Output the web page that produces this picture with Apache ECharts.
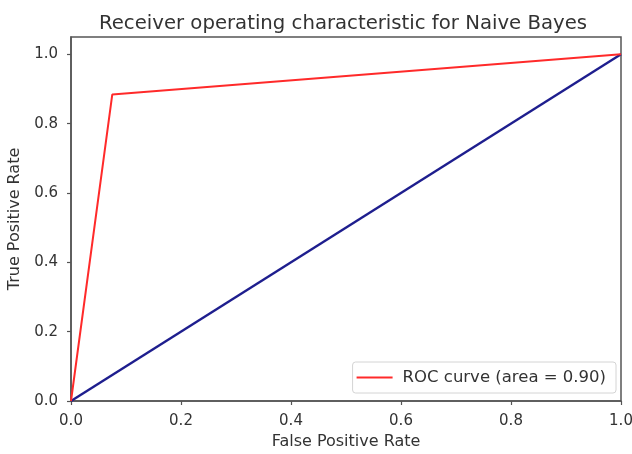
<!DOCTYPE html>
<html><head><meta charset="utf-8">
<script src="https://cdn.jsdelivr.net/npm/echarts@6/dist/echarts.min.js"></script>
<style>html,body{margin:0;padding:0;background:#fff}#c{width:632px;height:454px}</style>
</head><body><div id="c"></div>
<script>
const rocFpr = [0.0, 0.075, 1.0];
const rocTpr = [0.0, 0.884, 1.0];
const diagX = [0.0, 1.0];
const diagY = [0.0, 1.0];
const tickValues = [0.0, 0.2, 0.4, 0.6, 0.8, 1.0];
const title = 'Receiver operating characteristic for Naive Bayes';
const rocName = 'ROC curve (area = 0.90)';

const font = 'DejaVu Sans';
const axisColor = '#555';
const chart = echarts.init(document.getElementById('c'));
chart.setOption({
  animation: false,
  backgroundColor: '#fff',
  title: {text: title, left: 338, top: 9, textAlign: 'center',
    textStyle: {fontFamily: font, fontSize: 19.7, fontWeight: 'normal', color: '#333'}},
  grid: {left: 71, right: 11, top: 37, bottom: 53, show: true, borderColor: axisColor, borderWidth: 1.5,
    containLabel: false, outerBoundsMode: 'none'},
  legend: {data: [{name: rocName, icon: 'rect'}], right: 16, bottom: 61, orient: 'vertical',
    borderColor: '#d4d4d4', borderWidth: 1, borderRadius: 3, padding: [7, 10, 7, 4],
    itemWidth: 36, itemHeight: 2, itemGap: 0,
    textStyle: {fontFamily: font, fontSize: 16.5, color: '#333', padding: [0, 0, 0, 5]}},
  xAxis: {type: 'value', min: 0, max: 1, interval: 0.2,
    name: 'False Positive Rate', nameLocation: 'middle', nameGap: 32,
    nameTextStyle: {fontFamily: font, fontSize: 16, color: '#333'},
    axisLine: {show: true, lineStyle: {color: axisColor, width: 1.5}},
    axisTick: {show: true, length: 4, lineStyle: {color: axisColor, width: 1.2}, customValues: tickValues},
    axisLabel: {fontFamily: font, fontSize: 15, color: '#333', margin: 13, customValues: tickValues,
      formatter: v => v.toFixed(1)},
    splitLine: {show: false}},
  yAxis: {type: 'value', min: 0, max: 1.05,
    name: 'True Positive Rate', nameLocation: 'middle', nameGap: 48,
    nameTextStyle: {fontFamily: font, fontSize: 16, color: '#333'},
    axisLine: {show: true, lineStyle: {color: axisColor, width: 1.5}},
    axisTick: {show: true, length: 4, lineStyle: {color: axisColor, width: 1.2}, customValues: tickValues},
    axisLabel: {fontFamily: font, fontSize: 15, color: '#333', margin: 13, customValues: tickValues,
      formatter: v => v.toFixed(1)},
    splitLine: {show: false}},
  series: [
    {name: rocName, type: 'line', symbol: 'none', data: rocFpr.map((x, i) => [x, rocTpr[i]]),
      lineStyle: {color: '#ff2a2a', width: 2}, itemStyle: {color: '#ff2a2a'}, z: 3},
    {name: 'diag', type: 'line', symbol: 'none', data: diagX.map((x, i) => [x, diagY[i]]),
      lineStyle: {color: '#1e1e8e', width: 2.4}, itemStyle: {color: '#1e1e8e'}, z: 2}
  ]
});
</script></body></html>
